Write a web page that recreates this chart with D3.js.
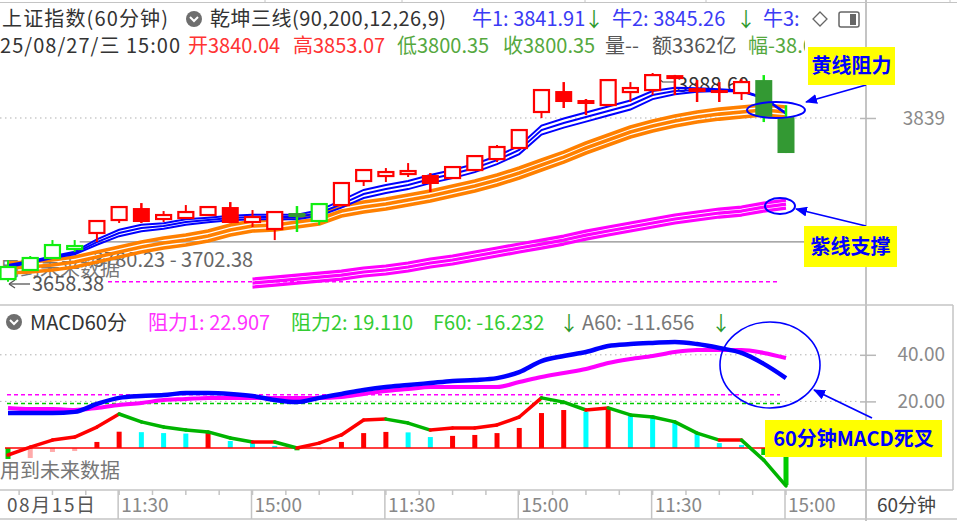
<!DOCTYPE html>
<html><head><meta charset="utf-8">
<script src="https://cdn.jsdelivr.net/npm/d3@7"></script>
<style>
html,body{margin:0;padding:0;background:#fff;overflow:hidden}
svg{display:block}
text{font-family:"Noto Sans CJK SC","Noto Sans",sans-serif}
</style></head><body>
<svg id="c" width="957" height="521"></svg>
<script>
// ---------------- data ----------------
const days  = ["08/15","08/18","08/19","08/20","08/21","08/22","08/25","08/26","08/27"];
const slots = ["10:30","11:30","14:00","15:00"];
const times = days.flatMap(d => slots.map(s => d + " " + s));

const open  = [3661.4,3671.4,3684.6,3694.5,3712.2,3726.5,3739.7,3727.6,3728.7,3732.0,3740.8,3724.3,3716.6,3734.2,3725.4,3743.0,3769.5,3775.0,3777.2,3776.1,3772.8,3781.6,3793.7,3805.9,3845.6,3868.7,3858.8,3853.3,3867.6,3869.8,3886.3,3872.0,3869.8,3866.5,3880.8,3840.04];
const high  = [3682.4,3686.8,3704.4,3704.4,3726.0,3741.9,3745.2,3736.4,3743.0,3741.9,3746.3,3737.5,3736.4,3741.9,3745.2,3768.4,3782.7,3783.8,3789.3,3778.3,3786.0,3797.5,3809.2,3826.8,3870.9,3878.6,3859.9,3881.9,3878.6,3888.60,3886.5,3880.8,3878.6,3881.9,3886.3,3853.07];
const low   = [3658.38,3670.3,3683.5,3691.2,3702.2,3723.2,3723.2,3724.3,3727.6,3730.9,3723.0,3718.8,3704.4,3713.3,3721.0,3741.9,3764.0,3768.4,3773.9,3757.4,3771.8,3780.5,3790.4,3804.8,3838.9,3850.0,3842.2,3852.2,3856.6,3864.3,3864.3,3856.6,3856.6,3858.8,3834.5,3800.35];
const close = [3674.7,3684.6,3698.9,3697.8,3725.4,3740.8,3724.3,3732.0,3735.3,3740.8,3723.2,3729.8,3735.3,3729.8,3744.1,3767.3,3781.6,3779.4,3780.5,3766.2,3784.9,3797.0,3807.0,3825.7,3869.8,3856.6,3854.4,3880.8,3872.0,3886.3,3881.9,3867.6,3866.5,3878.6,3840.5,3800.35];
const trend = ["g","g","g","g","r","r","r","r","r","r","r","r","r","g","g","r","r","r","r","r","r","r","r","r","r","r","r","r","r","r","r","r","r","r","g","g"];

const blueMid    = [3675.8,3680.2,3685.7,3690.1,3702.2,3712.2,3717.7,3719.9,3724.3,3726.5,3728.7,3729.8,3729.8,3729.8,3734.2,3744.1,3755.2,3760.7,3765.1,3771.7,3777.2,3783.8,3792.6,3803.7,3825.7,3833.4,3840.0,3846.7,3853.3,3864.3,3868.7,3869.8,3869.8,3868.7,3861.0,3844.0];
const blueSpread = [1,1,1,1.5,3,3.5,3.5,3,3,2.5,2.5,2.5,2.5,2.5,3,4,4.5,4.5,4.5,4.5,4.5,4.5,4.5,4.5,5,5,5,5,5,4.5,3.5,2,1,0.5,0.3,0.3];
const orangeMid  = [3673.6,3674.7,3676.9,3680.2,3685.7,3691.2,3696.7,3701.1,3704.4,3708.8,3715.5,3719.9,3721.0,3724.3,3727.6,3736.4,3740.8,3744.1,3748.5,3752.9,3758.5,3764.0,3770.6,3778.3,3787.1,3795.9,3805.9,3814.7,3823.5,3830.1,3835.6,3840.0,3843.3,3845.6,3847.8,3845.6];
const magentaMid = [null,null,null,null,null,null,null,null,null,null,null,3657.0,3659.2,3661.4,3663.6,3665.8,3669.2,3671.4,3674.7,3679.1,3682.4,3686.8,3691.2,3695.6,3700.0,3704.4,3709.9,3714.4,3718.8,3723.2,3727.6,3730.9,3734.2,3736.4,3740.8,3744.1];

const dif  = [15.0,15.0,15.0,15.5,18.9,21.5,22.3,22.7,23.6,23.6,23.2,22.3,20.6,19.7,21.5,23.2,24.9,26.2,27.0,27.9,28.8,29.2,30.0,32.6,37.3,39.5,41.2,43.8,44.6,45.1,45.5,44.6,42.9,40.8,36.1,30.0];
const dea  = [17.2,16.7,16.7,16.3,17.2,18.5,19.3,20.6,21.0,21.5,21.5,21.5,21.5,21.5,21.5,21.9,23.2,24.5,25.3,26.2,26.2,26.2,26.2,28.3,30.5,32.2,33.9,36.5,38.2,39.5,41.2,42.1,42.1,42.1,40.8,38.6];
const f60  = [-3.0,0.4,3.4,4.7,9.0,14.6,11.2,9.0,7.7,6.9,4.3,2.6,2.6,0.0,2.1,5.6,12.0,12.4,10.7,7.7,8.6,8.6,9.9,13.3,21.5,19.7,16.3,17.2,14.2,13.3,11.2,6.4,3.4,3.4,-5.2,-16.232];
const bars = [-4.7,-4.3,-1.7,-1.3,2.6,7.0,6.8,6.4,6.2,6.5,3.0,2.1,0.9,-1.0,-0.6,2.6,6.4,6.9,6.7,4.7,5.2,5.6,6.4,8.6,15.0,16.3,15.5,17.2,14.2,14.0,11.2,6.9,2.1,1.3,-3.0,-15.9];

const priceTicks = [3839];
const macdTicks  = [20, 40];
const tickIdx  = [0,5,11,17,23,29,35];
const tickText = ["08月15日","11:30","15:00","11:30","15:00","11:30","15:00"];
const levelGrey = 3702.38, levelLow = 3658.38, levelHigh = 3888.60;
const resist1 = 22.907, resist2 = 19.110;

// ---------------- drawing ----------------
const svg = d3.select("#c");
const x  = d3.scaleLinear().domain([0, times.length-1]).range([8, 786]);
const yP = d3.scaleLinear().domain([3658.38, 3888.60]).range([281.8, 73]);
const yM = d3.scaleLinear().domain([0, 40]).range([448, 354.8]);

const defs = svg.append("defs");
defs.append("marker").attr("id","ah").attr("viewBox","0 0 12 10").attr("refX",11).attr("refY",5)
  .attr("markerWidth",12).attr("markerHeight",10).attr("markerUnits","userSpaceOnUse").attr("orient","auto")
  .append("path").attr("d","M0,0 L12,5 L0,10 Z").attr("fill","#0000ff");
defs.append("clipPath").attr("id","hclip").append("rect").attr("x",0).attr("y",0).attr("width",805).attr("height",70);

// frame
const fr = svg.append("g").attr("stroke","#c4c4c4");
fr.append("line").attr("x1",0).attr("x2",957).attr("y1",2.5).attr("y2",2.5);
[265,402,585,706,950].forEach(v=>fr.append("line").attr("x1",v).attr("x2",v).attr("y1",0).attr("y2",3));
fr.append("line").attr("x1",866).attr("x2",866).attr("y1",0).attr("y2",521).attr("stroke-width",2);
fr.append("line").attr("x1",0).attr("x2",953).attr("y1",305).attr("y2",305).attr("stroke-width",1.5);
fr.append("line").attr("x1",0).attr("x2",953).attr("y1",490).attr("y2",490).attr("stroke-width",1.5);
fr.append("line").attr("x1",0).attr("x2",957).attr("y1",519).attr("y2",519).attr("stroke-width",1.5);
fr.append("line").attr("x1",953).attr("x2",953).attr("y1",305).attr("y2",490).attr("stroke-width",1.5);

function txt(g, s, xx, yy, col, size, opts={}) {
  const t = g.append("text").attr("x",xx).attr("y",yy).attr("fill",col).attr("font-size",size).text(s);
  if (opts.weight) t.attr("font-weight",opts.weight);
  if (opts.anchor) t.attr("text-anchor",opts.anchor);
  if (opts.len) t.attr("textLength",opts.len).attr("lengthAdjust","spacing");
  return t;
}
function chevIcon(cx, cy) {
  svg.append("circle").attr("cx",cx).attr("cy",cy).attr("r",8).attr("fill","#6e6e6e");
  svg.append("path").attr("d",`M${cx-4},${cy-2} L${cx},${cy+2} L${cx+4},${cy-2}`)
    .attr("stroke","#fff").attr("stroke-width",2).attr("fill","none");
}
const hd = svg.append("g").attr("clip-path","url(#hclip)");
txt(hd,"上证指数(60分钟)",2,26,"#333",20,{len:166});
chevIcon(194,19);
txt(hd,"乾坤三线(90,200,12,26,9)",210,26,"#333",20,{len:236});
txt(hd,"牛1: 3841.91",472,26,"#3b3bf5",20);
txt(hd,"↓",584,27,"#2e9a2e",20);
txt(hd,"牛2: 3845.26",612,26,"#3b3bf5",20);
txt(hd,"↓",736,27,"#2e9a2e",20);
txt(hd,"牛3:",763,26,"#3b3bf5",20);
svg.append("path").attr("d","M820,12 L827,19 L820,26 L813,19 Z").attr("fill","none").attr("stroke","#666").attr("stroke-width",1.3);
svg.append("rect").attr("x",839).attr("y",12).attr("width",20).attr("height",15).attr("rx",2).attr("fill","none").attr("stroke","#666").attr("stroke-width",1.5);
svg.append("rect").attr("x",850).attr("y",14).attr("width",6).attr("height",11).attr("fill","#666");

txt(hd,"25/08/27/三 15:00",0,53,"#333",20,{len:180});
txt(hd,"开3840.04",188,53,"#ff3333",20);
txt(hd,"高3853.07",293,53,"#ff3333",20);
txt(hd,"低3800.35",397,53,"#55a83e",20);
txt(hd,"收3800.35",503,53,"#55a83e",20);
txt(hd,"量--",605,53,"#555",20);
txt(hd,"额3362亿",652,53,"#555",20);
txt(hd,"幅-38.69",748,53,"#55a83e",20);

// price grid + axis
const dot = "1.5,3.5";
svg.append("line").attr("x1",0).attr("x2",858).attr("y1",yP(priceTicks[0])).attr("y2",yP(priceTicks[0]))
  .attr("stroke","#b0b0b0").attr("stroke-dasharray",dot);
const ax1 = svg.append("g").attr("transform","translate(860,0)")
  .call(d3.axisRight(yP).tickValues(priceTicks).tickSize(16).tickFormat(d3.format("d")));
const ax2 = svg.append("g").attr("transform","translate(860,0)")
  .call(d3.axisRight(yM).tickValues(macdTicks).tickSize(16).tickFormat(d3.format(".2f")));
[ax1,ax2].forEach(a=>{
  a.select(".domain").remove();
  a.selectAll(".tick line").attr("stroke","#b8b8b8").attr("stroke-width",1.5);
  a.selectAll(".tick text").attr("x",85).attr("text-anchor","end").attr("fill","#8a8a8a")
    .attr("font-size",19).attr("font-family","'Noto Sans CJK SC','Noto Sans',sans-serif");
});
macdTicks.forEach(v=>svg.append("line").attr("x1",0).attr("x2",858).attr("y1",yM(v)).attr("y2",yM(v))
  .attr("stroke","#b0b0b0").attr("stroke-dasharray",dot));

// level lines
svg.append("line").attr("x1",x(3)+5).attr("x2",866).attr("y1",yP(levelGrey)).attr("y2",yP(levelGrey))
  .attr("stroke","#8c8c8c").attr("stroke-width",1.3);
svg.append("line").attr("x1",108).attr("x2",780).attr("y1",yP(levelLow)).attr("y2",yP(levelLow))
  .attr("stroke","#ff00ff").attr("stroke-width",1.5).attr("stroke-dasharray","4,3");

// overlay texts in price panel (under marks)
txt(svg,"3780.23 - 3702.38",93,267,"#666",20);
txt(svg,"用到未来数据",0,276,"#777",20);
svg.append("line").attr("x1",30).attr("x2",9).attr("y1",284).attr("y2",284).attr("stroke","#555").attr("stroke-width",1.3);
svg.append("path").attr("d","M9,284 L15,280 M9,284 L15,288").attr("stroke","#555").attr("stroke-width",1.3).attr("fill","none");
txt(svg,"3658.38",32,291,"#555",20);
svg.append("path").attr("d",`M${x(29)+2},${yP(levelHigh)+2} L${x(29)+10},${yP(levelHigh)+9} L${x(29)+22},${yP(levelHigh)+9}`)
  .attr("stroke","#444").attr("stroke-width",1.2).attr("fill","none");
svg.append("path").attr("d",`M${x(29)+2},${yP(levelHigh)+2} l1,6 M${x(29)+2},${yP(levelHigh)+2} l6,1`)
  .attr("stroke","#444").attr("stroke-width",1.2).attr("fill","none");
txt(svg,"3888.60",677,92,"#333",20);

// ribbons
const lineP = (arr, off=0) => d3.line().defined((d,i)=>arr[i]!=null)
  .x((d,i)=>x(i)).y((d,i)=>yP(arr[i]) + off)(arr);
function ribbon(arr, col, w, offs) {
  offs.forEach(o=>svg.append("path").attr("d",lineP(arr,o)).attr("fill","none")
    .attr("stroke",col).attr("stroke-width",w).attr("stroke-linejoin","round"));
}
ribbon(magentaMid,"#ff00ff",3.2,[-4,0,4]);
ribbon(orangeMid,"#ff8000",3.6,[-5,0,5]);
[-1,0,1].forEach(k=>{
  const arr = blueMid.map((v,i)=>v + k*blueSpread[i]);
  svg.append("path").attr("d",lineP(arr)).attr("fill","none").attr("stroke","#0000ff").attr("stroke-width",2);
});

// candles
const cg = svg.append("g");
times.forEach((t,i)=>{
  const cx = x(i), up = close[i] >= open[i];
  const col = trend[i]==="r" ? "#ff0000" : (up ? "#11ee11" : "#339933");
  const wickCol = trend[i]==="r" ? "#ff0000" : "#11ee11";
  const top = yP(Math.max(open[i],close[i])), bot = yP(Math.min(open[i],close[i]));
  const hb = Math.max(bot-top, 2);
  if (up) {
    cg.append("line").attr("x1",cx).attr("x2",cx).attr("y1",yP(high[i])).attr("y2",top).attr("stroke",wickCol).attr("stroke-width",2);
    cg.append("line").attr("x1",cx).attr("x2",cx).attr("y1",top+hb).attr("y2",yP(low[i])).attr("stroke",wickCol).attr("stroke-width",2);
    cg.append("rect").attr("x",cx-7.5).attr("y",top).attr("width",15).attr("height",hb)
      .attr("fill","#fff").attr("stroke",col).attr("stroke-width",2.2);
  } else {
    cg.append("line").attr("x1",cx).attr("x2",cx).attr("y1",yP(high[i])).attr("y2",yP(low[i])).attr("stroke",wickCol).attr("stroke-width",2.5);
    cg.append("rect").attr("x",cx-8.5).attr("y",top).attr("width",17).attr("height",hb).attr("fill",col);
  }
});

// MACD panel
chevIcon(14,322);
const mh = svg.append("g");
txt(mh,"MACD60分",30,330,"#333",20);
txt(mh,"阻力1: 22.907",148,330,"#ff33ff",20);
txt(mh,"阻力2: 19.110",291,330,"#33cc33",20);
txt(mh,"F60: -16.232",433,330,"#33cc33",20);
txt(mh,"↓",559,331,"#2e9a2e",20);
txt(mh,"A60: -11.656",582,330,"#777",20);
txt(mh,"↓",711,331,"#2e9a2e",20);

svg.append("line").attr("x1",7).attr("x2",780).attr("y1",yM(resist1)).attr("y2",yM(resist1))
  .attr("stroke","#ff00ff").attr("stroke-width",1.5).attr("stroke-dasharray","4,3");
svg.append("line").attr("x1",7).attr("x2",780).attr("y1",yM(resist2)).attr("y2",yM(resist2))
  .attr("stroke","#00cc00").attr("stroke-width",1.5).attr("stroke-dasharray","4,3");

bars.forEach((v,i)=>{
  const rising = i>0 && v >= bars[i-1];
  const col = v>=0 ? (rising ? "#ff0000" : "#00ffff") : (rising ? "#ffaaaa" : "#00cc00");
  svg.append("rect").attr("x",x(i)-2.5).attr("width",5)
    .attr("y",Math.min(yM(0),yM(v))).attr("height",Math.abs(yM(v)-yM(0))).attr("fill",col);
});
svg.append("line").attr("x1",5).attr("x2",786).attr("y1",yM(0)).attr("y2",yM(0)).attr("stroke","#ff0000").attr("stroke-width",1.5);

for (let i=0;i<f60.length-1;i++){
  const col = f60[i+1] >= f60[i] ? "#ff0000" : "#00b400";
  svg.append("line").attr("x1",x(i)).attr("y1",yM(f60[i])).attr("x2",x(i+1)).attr("y2",yM(f60[i+1]))
    .attr("stroke",col).attr("stroke-width",3.5).attr("stroke-linecap","round");
}
const lineM = arr => d3.line().x((d,i)=>x(i)).y((d,i)=>yM(arr[i])).curve(d3.curveMonotoneX)(arr);
svg.append("path").attr("d",lineM(dea)).attr("fill","none").attr("stroke","#ff00ff").attr("stroke-width",4);
svg.append("path").attr("d",lineM(dif)).attr("fill","none").attr("stroke","#0000ff").attr("stroke-width",4.5);

txt(svg,"用到未来数据",0,478,"#777",20);

// time axis
const axg = svg.append("g");
for (let k=-3; 5+1.5*k <= 35; k++){
  const xx = x(5+1.5*k);
  if (xx < 10) continue;
  axg.append("line").attr("x1",xx).attr("x2",xx).attr("y1",490).attr("y2",495).attr("stroke","#c4c4c4").attr("stroke-width",1.5);
}
tickIdx.forEach((idx,j)=>{
  if (j===0) { txt(axg,tickText[j],7,512,"#555",19,{len:88}); return; }
  const xx = x(idx)-1;
  axg.append("line").attr("x1",xx).attr("x2",xx).attr("y1",490).attr("y2",519).attr("stroke","#c4c4c4").attr("stroke-width",1.5);
  txt(axg,tickText[j],xx+3,512,"#888",19);
});
txt(axg,"60分钟",877,512,"#444",19);

// annotations
const an = svg.append("g");
function note(rx,ry,rw,rh,s){
  an.append("rect").attr("x",rx).attr("y",ry).attr("width",rw).attr("height",rh).attr("fill","#ffff00");
  an.append("text").attr("x",rx+rw/2).attr("y",ry+rh/2+7).attr("text-anchor","middle")
    .attr("fill","#0000ff").attr("font-size",20).attr("font-weight","bold").text(s);
}
function arrow(x1,y1,x2,y2){
  an.append("line").attr("x1",x1).attr("y1",y1).attr("x2",x2).attr("y2",y2)
    .attr("stroke","#0000ff").attr("stroke-width",1.8).attr("marker-end","url(#ah)");
}
an.append("ellipse").attr("cx",776).attr("cy",110).attr("rx",29).attr("ry",8).attr("fill","none").attr("stroke","#0000ff").attr("stroke-width",2);
an.append("ellipse").attr("cx",780).attr("cy",206).attr("rx",15).attr("ry",8).attr("fill","none").attr("stroke","#0000ff").attr("stroke-width",2);
an.append("ellipse").attr("cx",770).attr("cy",365).attr("rx",50).attr("ry",43).attr("fill","none").attr("stroke","#0000ff").attr("stroke-width",1.6);
arrow(866,85,806,102);
arrow(866,226,796,209);
arrow(872,418,814,390);
note(808,47,87,38,"黄线阻力");
note(804,226,93,41,"紫线支撑");
note(765,420,177,37,"60分钟MACD死叉");
</script>
</body></html>
